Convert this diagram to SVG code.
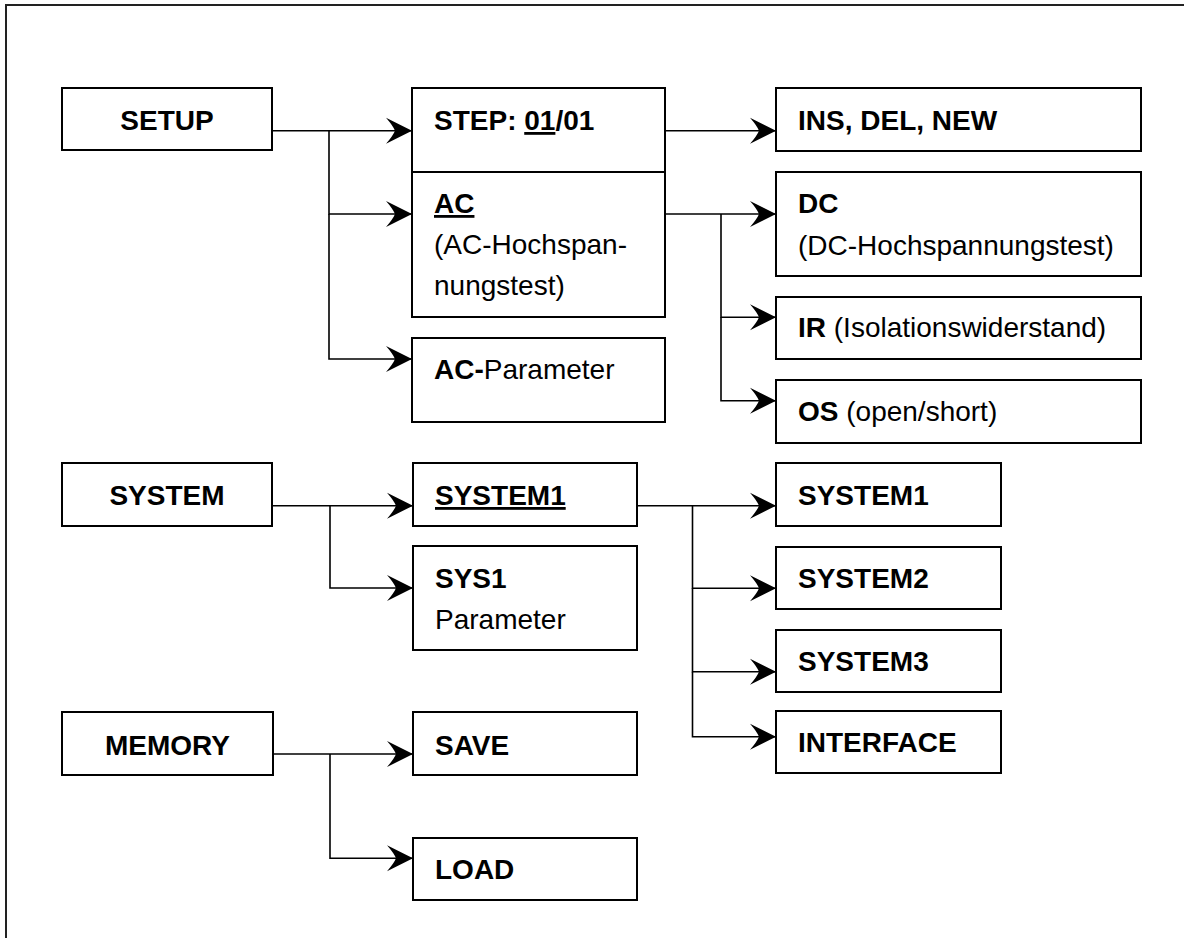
<svg xmlns="http://www.w3.org/2000/svg" width="1184" height="938" viewBox="0 0 1184 938">
<style>
.box{fill:#fff;stroke:#000;stroke-width:2}
.con{fill:none;stroke:#000;stroke-width:1.6}
text{font-family:"Liberation Sans",Arial,sans-serif;font-size:28px;fill:#000}
.b{font-weight:bold}
.c{text-anchor:middle}
.u{text-decoration:underline}
</style>
<defs>
<marker id="arr" markerUnits="userSpaceOnUse" markerWidth="28" markerHeight="28" viewBox="0 0 28 28" refX="26" refY="14" orient="auto">
<path d="M26,14 L0,1 Q7,9 9,14 Q7,19 0,27 Z" fill="#000"/>
</marker>
</defs>
<rect width="1184" height="938" fill="#fff"/>
<path d="M6,945 V5 H1190" fill="none" stroke="#222" stroke-width="2"/>

<g id="connectors">
<path class="con" d="M272,130.7 H412" marker-end="url(#arr)"/>
<path class="con" d="M329,130.7 V214 H412" marker-end="url(#arr)"/>
<path class="con" d="M329,214 V359 H412" marker-end="url(#arr)"/>
<path class="con" d="M665,130.7 H776" marker-end="url(#arr)"/>
<path class="con" d="M665,214 H776" marker-end="url(#arr)"/>
<path class="con" d="M721,214 V317.3 H776" marker-end="url(#arr)"/>
<path class="con" d="M721,317.3 V400.7 H776" marker-end="url(#arr)"/>
<path class="con" d="M272,505.7 H413" marker-end="url(#arr)"/>
<path class="con" d="M330,505.7 V588 H413" marker-end="url(#arr)"/>
<path class="con" d="M637,505.7 H776" marker-end="url(#arr)"/>
<path class="con" d="M692.5,505.7 V588.3 H776" marker-end="url(#arr)"/>
<path class="con" d="M692.5,588.3 V671.7 H776" marker-end="url(#arr)"/>
<path class="con" d="M692.5,671.7 V736.7 H776" marker-end="url(#arr)"/>
<path class="con" d="M273,754 H413" marker-end="url(#arr)"/>
<path class="con" d="M330,754 V858.3 H413" marker-end="url(#arr)"/>
</g>

<g id="setup"><rect class="box" x="62" y="88" width="210" height="62"/><text class="b c" x="167" y="130">SETUP</text></g>
<g id="step"><rect class="box" x="412" y="88" width="253" height="84"/><text class="b" x="434" y="130">STEP: <tspan class="u">01</tspan>/01</text></g>
<g id="ac"><rect class="box" x="412" y="172" width="253" height="145"/><text class="b u" x="434" y="213">AC</text><text x="434" y="254">(AC-Hochspan-</text><text x="434" y="295">nungstest)</text></g>
<g id="acparam"><rect class="box" x="412" y="338" width="253" height="84"/><text x="434" y="379"><tspan class="b">AC-</tspan>Parameter</text></g>
<g id="insdelnew"><rect class="box" x="776" y="88" width="365" height="63"/><text class="b" x="798" y="130">INS, DEL, NEW</text></g>
<g id="dc"><rect class="box" x="776" y="172" width="365" height="104"/><text class="b" x="798" y="213">DC</text><text x="798" y="255">(DC-Hochspannungstest)</text></g>
<g id="ir"><rect class="box" x="776" y="297" width="365" height="62"/><text x="798" y="337"><tspan class="b">IR</tspan> (Isolationswiderstand)</text></g>
<g id="os"><rect class="box" x="776" y="380" width="365" height="63"/><text x="798" y="421"><tspan class="b">OS</tspan> (open/short)</text></g>

<g id="system"><rect class="box" x="62" y="463" width="210" height="63"/><text class="b c" x="167" y="505">SYSTEM</text></g>
<g id="system1mid"><rect class="box" x="413" y="463" width="224" height="63"/><text class="b u" x="435" y="505">SYSTEM1</text></g>
<g id="sys1param"><rect class="box" x="413" y="546" width="224" height="104"/><text class="b" x="435" y="588">SYS1</text><text x="435" y="629">Parameter</text></g>
<g id="system1"><rect class="box" x="776" y="463" width="225" height="63"/><text class="b" x="798" y="505">SYSTEM1</text></g>
<g id="system2"><rect class="box" x="776" y="547" width="225" height="62"/><text class="b" x="798" y="588">SYSTEM2</text></g>
<g id="system3"><rect class="box" x="776" y="630" width="225" height="62"/><text class="b" x="798" y="671">SYSTEM3</text></g>
<g id="interface"><rect class="box" x="776" y="711" width="225" height="62"/><text class="b" x="798" y="752">INTERFACE</text></g>

<g id="memory"><rect class="box" x="62" y="712" width="211" height="63"/><text class="b c" x="167.5" y="755">MEMORY</text></g>
<g id="save"><rect class="box" x="413" y="712" width="224" height="63"/><text class="b" x="435" y="755">SAVE</text></g>
<g id="load"><rect class="box" x="413" y="838" width="224" height="62"/><text class="b" x="435" y="879">LOAD</text></g>
</svg>
